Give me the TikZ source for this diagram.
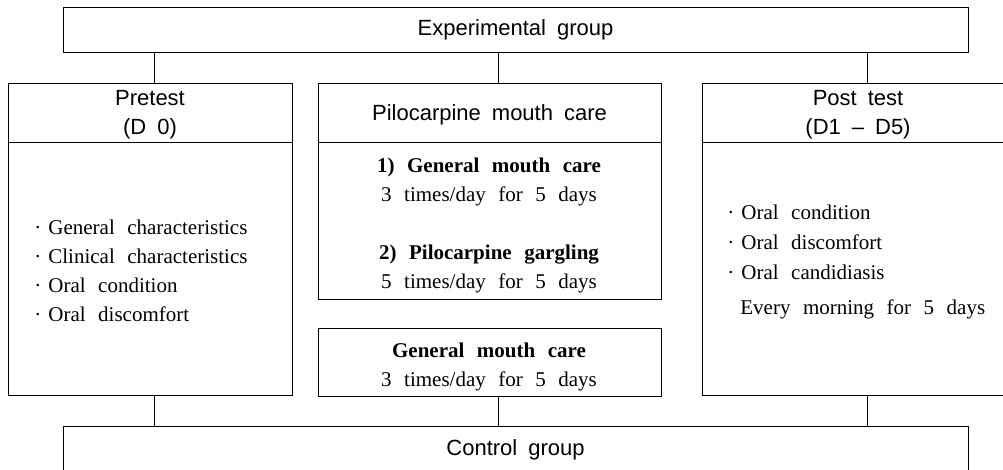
\documentclass[tikz,border=0pt]{standalone}
\usepackage{fontspec}
\setmainfont{Liberation Serif}
\newfontfamily\hdfont{Liberation Sans}
\newcommand{\bul}{\textperiodcentered\hspace{7pt}}
\newcommand{\hdsize}{\fontsize{22}{29}\selectfont\spaceskip 11pt\relax}
\newcommand{\bdsize}{\fontsize{21}{29}\selectfont\spaceskip 12.5pt\relax}

\begin{document}
\begin{tikzpicture}[x=1pt,y=-1pt,line width=0.8pt,
	box/.style={draw,rectangle,inner sep=0pt},
	head/.style={font=\hdfont\hdsize,align=center,inner sep=0pt},
	body/.style={font=\bdsize,inner sep=0pt}]
	\useasboundingbox (0,0) rectangle (1003,469);
	\node[box,head,minimum width=905,minimum height=45] (exp) at (515.5,29.5) {Experimental group};
	\node[box,minimum width=284,minimum height=312] (pre) at (150,239) {};
	\node[box,minimum width=343,minimum height=216] (pilo) at (489.5,191) {};
	\node[box,minimum width=343,minimum height=68] (gen) at (489.5,362) {};
	\node[box,minimum width=312,minimum height=312] (post) at (858,239) {};
	\node[box,head,minimum width=905,minimum height=48] (ctrl) at (515.5,450) {Control group};
	\foreach \b in {pre,pilo,post}
		\draw ([yshift=-60]\b.north west) -- ([yshift=-60]\b.north east);
	\node[head] (preh) at (150,114.5) {Pretest\\(D 0)};
	\node[head] (piloh) at (489.5,115) {Pilocarpine mouth care};
	\node[head] (posth) at (858,114.5) {Post test\\(D1 \textendash{} D5)};
	\node[body,align=left,anchor=west] (prel) at (34,270.5) {\bul General characteristics\\ \bul Clinical characteristics\\ \bul Oral condition\\ \bul Oral discomfort};
	\node[body,align=center] (pilo1) at (489,181.5) {\textbf{1) General mouth care}\\3 times/day for 5 days};
	\node[body,align=center] (pilo2) at (489,268.5) {\textbf{2) Pilocarpine gargling}\\5 times/day for 5 days};
	\node[body,align=center] (genb) at (489,367) {\textbf{General mouth care}\\3 times/day for 5 days};
	\node[body,align=left,anchor=west] (postl) at (727,242) {\bul Oral condition\\[1pt] \bul Oral discomfort\\[1pt] \bul Oral candidiasis};
	\node[body,anchor=west] (postn) at (740,309) {Every morning for 5 days};
	\foreach \b/\dx in {pre/4,pilo/8.5,post/9}
		\draw ([xshift=\dx]\b.north) -- ([xshift=\dx]\b.north |- exp.south);
	\foreach \b/\dx in {pre/4,gen/8.5,post/9}
		\draw ([xshift=\dx]\b.south) -- ([xshift=\dx]\b.south |- ctrl.north);
\end{tikzpicture}
\end{document}
